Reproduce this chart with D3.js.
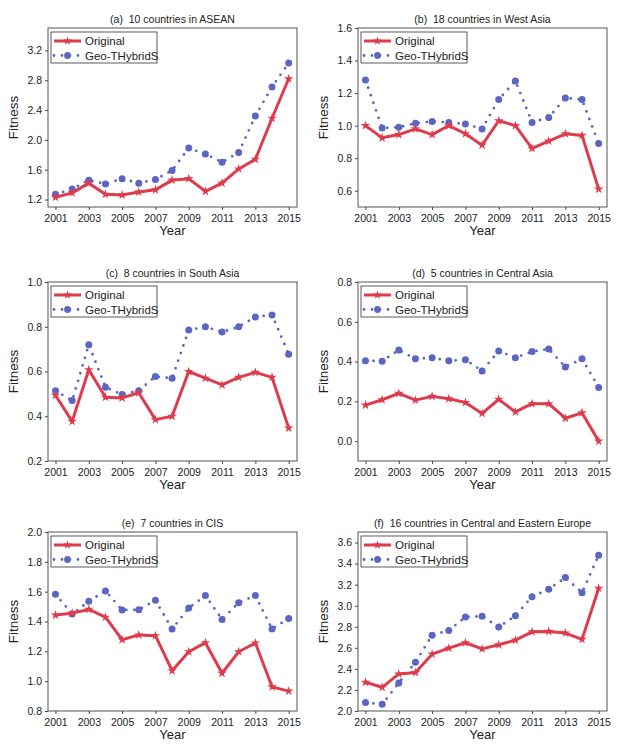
<!DOCTYPE html>
<html>
<head>
<meta charset="utf-8">
<script src="https://cdn.jsdelivr.net/npm/d3@7"></script>
<style>
  body { margin: 0; background: #fff; }
  text { font-family: "Liberation Sans", Arial, sans-serif; fill: #222; }
</style>
</head>
<body>
<script>
const years = d3.range(2001, 2016)
const yearTicks = [2001, 2003, 2005, 2007, 2009, 2011, 2013, 2015]
const seriesNames = ['Original', 'Geo-THybridS']

const titles = [
  '(a)  10 countries in ASEAN',
  '(b)  18 countries in West Asia',
  '(c)  8 countries in South Asia',
  '(d)  5 countries in Central Asia',
  '(e)  7 countries in CIS',
  '(f)  16 countries in Central and Eastern Europe'
]

const aseanOrig = [1.23, 1.29, 1.42, 1.27, 1.26, 1.30, 1.33, 1.46, 1.48, 1.31, 1.42, 1.61, 1.74, 2.29, 2.82]
const aseanGeo = [1.27, 1.34, 1.46, 1.41, 1.48, 1.42, 1.47, 1.59, 1.89, 1.81, 1.70, 1.83, 2.32, 2.71, 3.03]
const westOrig = [1.00, 0.925, 0.945, 0.98, 0.945, 1.00, 0.95, 0.88, 1.03, 1.00, 0.86, 0.905, 0.95, 0.94, 0.61]
const westGeo = [1.28, 0.985, 0.99, 1.015, 1.025, 1.02, 1.01, 0.98, 1.16, 1.275, 1.02, 1.05, 1.17, 1.16, 0.89]
const southOrig = [0.494, 0.377, 0.608, 0.485, 0.482, 0.505, 0.385, 0.40, 0.60, 0.57, 0.54, 0.574, 0.596, 0.574, 0.347]
const southGeo = [0.514, 0.47, 0.72, 0.53, 0.497, 0.514, 0.578, 0.57, 0.785, 0.80, 0.776, 0.80, 0.844, 0.853, 0.677]
const centralOrig = [0.181, 0.208, 0.24, 0.206, 0.225, 0.213, 0.194, 0.139, 0.21, 0.147, 0.188, 0.188, 0.115, 0.142, 0.0]
const centralGeo = [0.404, 0.402, 0.458, 0.414, 0.419, 0.404, 0.409, 0.353, 0.453, 0.419, 0.45, 0.463, 0.372, 0.414, 0.27]
const cisOrig = [1.443, 1.456, 1.481, 1.429, 1.278, 1.31, 1.305, 1.07, 1.197, 1.258, 1.053, 1.197, 1.256, 0.962, 0.933]
const cisGeo = [1.583, 1.45, 1.535, 1.605, 1.477, 1.479, 1.542, 1.35, 1.49, 1.574, 1.413, 1.526, 1.574, 1.35, 1.42]
const ceeOrig = [2.273, 2.225, 2.352, 2.365, 2.54, 2.597, 2.648, 2.59, 2.629, 2.673, 2.752, 2.756, 2.74, 2.68, 3.165]
const ceeGeo = [2.08, 2.063, 2.267, 2.463, 2.72, 2.765, 2.892, 2.90, 2.797, 2.905, 3.086, 3.156, 3.267, 3.124, 3.48]

const yDomains = [[1.1, 3.5], [0.5, 1.6], [0.2, 1.0], [-0.1, 0.8], [0.8, 2.0], [2.0, 3.7]]
const yTickLists = [
  [1.2, 1.6, 2.0, 2.4, 2.8, 3.2],
  [0.6, 0.8, 1.0, 1.2, 1.4, 1.6],
  [0.2, 0.4, 0.6, 0.8, 1.0],
  [0.0, 0.2, 0.4, 0.6, 0.8],
  [0.8, 1.0, 1.2, 1.4, 1.6, 1.8, 2.0],
  [2.0, 2.2, 2.4, 2.6, 2.8, 3.0, 3.2, 3.4, 3.6]
]
const origData = [aseanOrig, westOrig, southOrig, centralOrig, cisOrig, ceeOrig]
const geoData = [aseanGeo, westGeo, southGeo, centralGeo, cisGeo, ceeGeo]

const red = '#de3b4d'
const blue = '#5b65c2'

const svg = d3.select('body').append('svg')
  .attr('width', 617)
  .attr('height', 744)

const colX = [48, 358]
const rowY = [28, 282, 532]
const pw = 249
const ph = 179

titles.forEach((title, i) => {
  const col = i % 2
  const row = Math.floor(i / 2)
  const g = svg.append('g')
    .attr('transform', `translate(${colX[col]}, ${rowY[row]})`)

  const x = d3.scaleLinear().domain([2000.55, 2015.5]).range([0, pw])
  const y = d3.scaleLinear().domain(yDomains[i]).range([ph, 0])

  // axes
  g.append('g')
    .attr('transform', `translate(0, ${ph})`)
    .call(d3.axisBottom(x).tickValues(yearTicks).tickFormat(d3.format('d')).tickSize(3).tickSizeOuter(0))
    .call(a => a.selectAll('text').attr('font-size', 10.5).attr('dy', '0.85em'))
  g.append('g')
    .call(d3.axisLeft(y).tickValues(yTickLists[i]).tickFormat(d3.format('.1f')).tickSize(3).tickSizeOuter(0))
    .call(a => a.selectAll('text').attr('font-size', 10.5))
  g.selectAll('.domain').remove()
  g.selectAll('.tick line').attr('stroke', '#444')

  g.append('rect')
    .attr('width', pw).attr('height', ph)
    .attr('fill', 'none')
    .attr('stroke', '#555')
    .attr('stroke-width', 1)

  g.append('text')
    .attr('x', pw / 2).attr('y', -5)
    .attr('text-anchor', 'middle')
    .attr('font-size', 10.5)
    .style('white-space', 'pre')
    .text(title)

  g.append('text')
    .attr('x', pw / 2).attr('y', ph + 28)
    .attr('text-anchor', 'middle')
    .attr('font-size', 13)
    .text('Year')

  g.append('text')
    .attr('transform', `translate(-30, ${ph / 2}) rotate(-90)`)
    .attr('text-anchor', 'middle')
    .attr('font-size', 13.5)
    .text('Fitness')

  const line = d3.line().x((d, j) => x(years[j])).y(d => y(d))

  // Geo-THybridS
  g.append('path')
    .datum(geoData[i])
    .attr('d', line)
    .attr('fill', 'none')
    .attr('stroke', blue)
    .attr('stroke-width', 2.8)
    .attr('stroke-linecap', 'round')
    .attr('stroke-dasharray', '0 8')
  g.selectAll('.geo')
    .data(geoData[i])
    .enter().append('circle')
    .attr('cx', (d, j) => x(years[j]))
    .attr('cy', d => y(d))
    .attr('r', 3.5)
    .attr('fill', blue)

  // Original
  g.append('path')
    .datum(origData[i])
    .attr('d', line)
    .attr('fill', 'none')
    .attr('stroke', red)
    .attr('stroke-width', 3)
    .attr('stroke-linejoin', 'round')
  g.selectAll('.orig')
    .data(origData[i])
    .enter().append('path')
    .attr('transform', (d, j) => `translate(${x(years[j])}, ${y(d)})`)
    .attr('d', d3.symbol(d3.symbolStar, 28))
    .attr('fill', red)

  // legend
  const lg = g.append('g').attr('transform', 'translate(3, 4)')
  lg.append('rect')
    .attr('width', 106).attr('height', 31)
    .attr('fill', '#fff')
    .attr('stroke', '#333')
    .attr('stroke-width', 0.8)
  lg.append('line')
    .attr('x1', 3).attr('x2', 30).attr('y1', 9).attr('y2', 9)
    .attr('stroke', red).attr('stroke-width', 3)
  lg.append('path')
    .attr('transform', 'translate(16.5, 9)')
    .attr('d', d3.symbol(d3.symbolStar, 24))
    .attr('fill', red)
  lg.append('text')
    .attr('x', 34).attr('y', 13)
    .attr('font-size', 11.5)
    .text(seriesNames[0])
  lg.append('line')
    .attr('x1', 3).attr('x2', 30).attr('y1', 23.5).attr('y2', 23.5)
    .attr('stroke', blue).attr('stroke-width', 2.8)
    .attr('stroke-linecap', 'round')
    .attr('stroke-dasharray', '0 8')
  lg.append('circle')
    .attr('cx', 16.5).attr('cy', 23.5).attr('r', 3.4)
    .attr('fill', blue)
  lg.append('text')
    .attr('x', 34).attr('y', 27.5)
    .attr('font-size', 11.5)
    .text(seriesNames[1])
})
</script>
</body>
</html>
